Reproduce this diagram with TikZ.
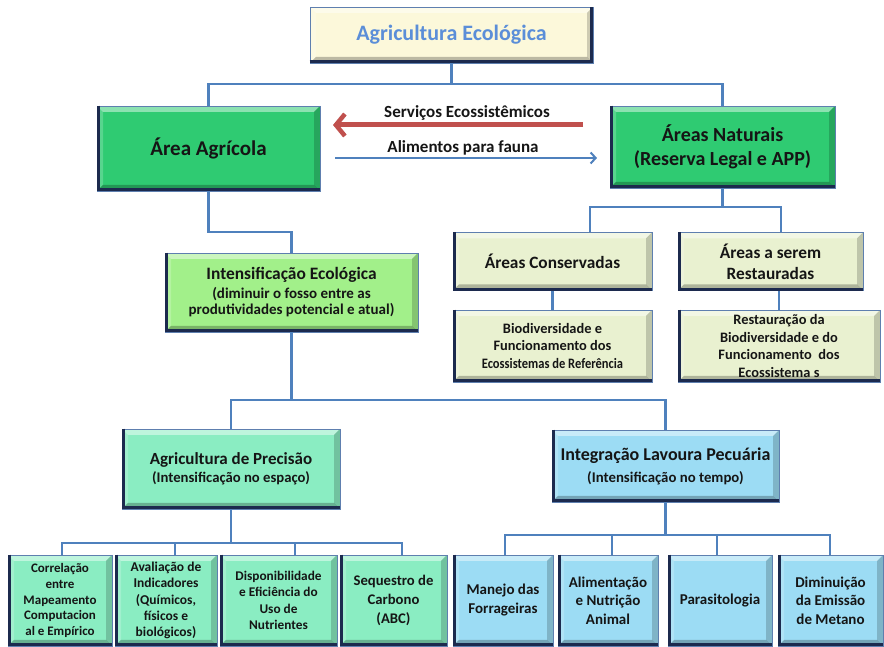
\documentclass[tikz,border=0pt]{standalone}
\usepackage{fontspec}
\setmainfont{Carlito}
\usetikzlibrary{arrows.meta,calc}
\definecolor{lineblue}{HTML}{4F81BD}
\definecolor{edgec}{HTML}{5E7FAF}
\definecolor{navyc}{HTML}{1C2A4E}
\definecolor{txt}{HTML}{151515}
\definecolor{titleblue}{HTML}{5B8ED8}
\definecolor{creamc}{HTML}{FCF8DA}
\definecolor{greenc}{HTML}{2FCB72}
\definecolor{lgreenc}{HTML}{A2F08A}
\definecolor{paleg}{HTML}{E9F1D0}
\definecolor{mintc}{HTML}{8AEDC2}
\definecolor{skyc}{HTML}{9CDCF4}
\definecolor{redc}{HTML}{C0504D}
\newcommand\fsz[2]{\fontsize{#1}{#2}\selectfont}
\tikzset{
  conn/.style={draw=lineblue, line width=2.6pt},
  bev/.style={path picture={
    \coordinate (ppsw) at (path picture bounding box.south west);
    \coordinate (ppse) at (path picture bounding box.south east);
    \coordinate (ppnw) at (path picture bounding box.north west);
    \coordinate (ppne) at (path picture bounding box.north east);
    \fill[white,opacity=.45] (ppnw) -- (ppne) -- ([shift={(-6pt,-6pt)}]ppne) -- ([shift={(6pt,-6pt)}]ppnw) -- cycle;
    \fill[white,opacity=.2] (ppsw) -- (ppnw) -- ([shift={(6pt,-6pt)}]ppnw) -- ([shift={(6pt,6pt)}]ppsw) -- cycle;
    \fill[black,opacity=.18] (ppne) -- (ppse) -- ([shift={(-6pt,6pt)}]ppse) -- ([shift={(-6pt,-6pt)}]ppne) -- cycle;
    \fill[black,opacity=.25] (ppsw) -- (ppse) -- ([shift={(-6pt,6pt)}]ppse) -- ([shift={(6pt,6pt)}]ppsw) -- cycle;
  }},
  bx/.style={draw=edgec, line width=0.7pt, align=center, font=\bfseries, text=txt, inner sep=1pt, bev},
  lbl/.style={font=\bfseries\fsz{17}{20}, text=txt},
}
\begin{document}
\begin{tikzpicture}[x=1pt,y=1pt]
\useasboundingbox (0,0) rectangle (884,647);
\fill[white] (0,0) rectangle (884,647);

% nodes
\node[bx, fill=creamc, minimum width=283pt, minimum height=56pt, text=titleblue, font=\bfseries\fsz{22}{26}] (top) at (451.5,612) {Agricultura Ecológica};
\node[bx, fill=greenc, minimum width=223pt, minimum height=85pt, font=\bfseries\fsz{21}{25}] (agri) at (208.5,498.5) {Área Agrícola};
\node[bx, fill=greenc, minimum width=225pt, minimum height=82pt, font=\bfseries\fsz{20}{24}] (nat) at (722.5,500) {Áreas Naturais\\(Reserva Legal e APP)};
\node[bx, fill=lgreenc, minimum width=253pt, minimum height=79pt, font=\bfseries\fsz{15}{16}] (intens) at (291.5,354.5) {{\fsz{17.4}{19}Intensificação Ecológica}\\[3pt](diminuir o fosso entre as\\produtividades potencial e atual)};
\node[bx, fill=paleg, minimum width=199pt, minimum height=58pt, font=\bfseries\fsz{17.3}{21}] (cons) at (552.5,385.5) {Áreas Conservadas};
\node[bx, fill=paleg, minimum width=185pt, minimum height=58pt, font=\bfseries\fsz{17.3}{21}] (rest) at (770.5,385.5) {Áreas a serem\\Restauradas};
\node[bx, fill=paleg, minimum width=199pt, minimum height=72pt, font=\bfseries\fsz{14.4}{17.5}] (bio) at (552.5,301) {Biodiversidade e\\Funcionamento dos\\\scalebox{0.87}[1]{Ecossistemas de Referência}};
\node[bx, fill=paleg, minimum width=202pt, minimum height=72pt, font=\bfseries\fsz{14.4}{17.7}] (restbio) at (779,301) {Restauração da\\Biodiversidade e do\\Funcionamento\ \ dos\\Ecossistema s};
\node[bx, fill=mintc, minimum width=218pt, minimum height=80pt, font=\bfseries\fsz{14.7}{18}] (pr) at (231,178) {{\fsz{17}{18}Agricultura de Precisão}\\(Intensificação no espaço)};
\node[bx, fill=skyc, minimum width=227pt, minimum height=72pt, font=\bfseries\fsz{14.8}{22}] (ilp) at (665.5,181) {{\fsz{18}{22}Integração Lavoura Pecuária}\\(Intensificação no tempo)};

\node[bx, fill=mintc, minimum width=104pt, minimum height=91pt, font=\bfseries\fsz{13}{15.8}] (b1) at (60,46.5) {Correlação\\entre\\Mapeamento\\Computacion\\al e Empírico};
\node[bx, fill=mintc, minimum width=102pt, minimum height=91pt, font=\bfseries\fsz{13.5}{16.2}] (b2) at (166,46.5) {Avaliação de\\Indicadores\\(Químicos,\\físicos e\\biológicos)};
\node[bx, fill=mintc, minimum width=117pt, minimum height=91pt, font=\bfseries\fsz{13.3}{16.3}] (b3) at (278.5,46.5) {Disponibilidade\\e Eficiência do\\Uso de\\Nutrientes};
\node[bx, fill=mintc, minimum width=107pt, minimum height=91pt, font=\bfseries\fsz{14.7}{19}] (b4) at (393.5,46.5) {Sequestro de\\Carbono\\(ABC)};
\node[bx, fill=skyc, minimum width=100pt, minimum height=91pt, font=\bfseries\fsz{15}{19}] (b5) at (503,46.5) {Manejo das\\Forrageiras};
\node[bx, fill=skyc, minimum width=100pt, minimum height=91pt, font=\bfseries\fsz{15}{18.5}] (b6) at (608,46.5) {Alimentação\\e Nutrição\\Animal};
\node[bx, fill=skyc, minimum width=104pt, minimum height=91pt, font=\bfseries\fsz{15}{19}] (b7) at (720,46.5) {Parasitologia};
\node[bx, fill=skyc, minimum width=105pt, minimum height=91pt, font=\bfseries\fsz{15}{18.5}] (b8) at (830.5,46.5) {Diminuição\\da Emissão\\de Metano};

% dark bevel edges (left and bottom)
\foreach \n in {agri,nat,intens,cons,rest,bio,restbio,pr,ilp,b1,b2,b3,b4,b5,b6,b7,b8}{
  \draw[navyc, line width=3pt] ([xshift=1.5pt]\n.north west) -- ([shift={(1.5pt,1.5pt)}]\n.south west) -- ([yshift=1.5pt]\n.south east);
}
\draw[navyc, line width=3pt] ([yshift=1.5pt]top.south west) -- ([shift={(-1.5pt,1.5pt)}]top.south east) -- ([xshift=-1.5pt]top.north east);

% connectors
\coordinate (h1) at (0,563);
\draw[conn] (top.south) -- (top.south |- h1);
\draw[conn] (agri.north) |- (nat.north |- h1) -- (nat.north);

\coordinate (h2) at (0,415);
\draw[conn] (agri.south) |- (intens.north |- h2) -- (intens.north);

\coordinate (c1) at (590,440);
\coordinate (c2) at (781,440);
\draw[conn] (nat.south) -- (nat.south |- c1);
\draw[conn] (cons.north -| c1) -- (c1) -- (c2) -- (rest.north -| c2);
\draw[conn] (cons.south) -- (bio.north);
\draw[conn] (restbio.north |- rest.south) -- (restbio.north);

\coordinate (h4) at (0,247);
\draw[conn] (intens.south) -- (intens.south |- h4);
\draw[conn] (pr.north) |- (ilp.north |- h4) -- (ilp.north);

\coordinate (d1) at (62,104);
\coordinate (d2) at (175,104);
\coordinate (d3) at (295,104);
\coordinate (d4) at (402,104);
\draw[conn] (pr.south) -- (pr.south |- d1);
\draw[conn] (b1.north -| d1) -- (d1) -- (d4) -- (b4.north -| d4);
\draw[conn] (d2) -- (b2.north -| d2);
\draw[conn] (d3) -- (b3.north -| d3);

\coordinate (e1) at (505,112);
\coordinate (e2) at (612,112);
\coordinate (e3) at (717,112);
\coordinate (e4) at (830,112);
\draw[conn] (ilp.south) -- (ilp.south |- e1);
\draw[conn] (b5.north -| e1) -- (e1) -- (e4) -- (b8.north -| e4);
\draw[conn] (e2) -- (b6.north -| e2);
\draw[conn] (e3) -- (b7.north -| e3);

% exchange arrows
\coordinate (ra) at (583,522);
\coordinate (rb) at (333,522);
\coordinate (ba) at (335,489);
\coordinate (bb) at (597,489);
\draw[redc, line width=5pt, -{Straight Barb[length=9pt,width=22pt,line width=4.5pt]}] (ra) -- (rb);
\draw[lineblue, line width=2pt, -{Straight Barb[length=5pt,width=11pt,line width=2pt]}] (ba) -- (bb);
\node[lbl] (lserv) at (467,534) {Serviços Ecossistêmicos};
\node[lbl] (lalim) at (463,499) {Alimentos para fauna};
\end{tikzpicture}
\end{document}
